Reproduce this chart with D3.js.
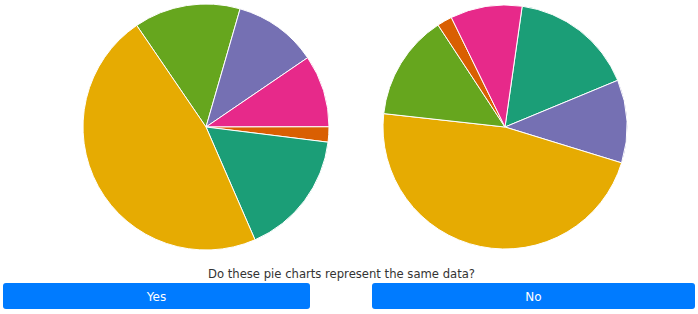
<!DOCTYPE html>
<html>
<head>
<meta charset="utf-8">
<script src="https://cdn.jsdelivr.net/npm/d3@7"></script>
<style>
  body { margin: 0; background: #fff; }
  svg { display: block; }
</style>
</head>
<body>
<svg id="canvas" width="698" height="314"></svg>
<script>
// slice values (same data in both pies, different order)
var categories = ['teal', 'orange', 'purple', 'pink', 'green', 'yellow'];
var values = [16.5, 2, 11, 9.5, 14, 47];
var colors = ['#1b9e77', '#d95f02', '#7570b3', '#e7298a', '#66a61e', '#e6ab02'];

// order of slices in each pie, clockwise from start angle
var leftOrder = ['green', 'purple', 'pink', 'orange', 'teal', 'yellow'];
var rightOrder = ['teal', 'purple', 'yellow', 'green', 'orange', 'pink'];

var question = 'Do these pie charts represent the same data?';
var answers = ['Yes', 'No'];

var svg = d3.select('#canvas');
var color = d3.scaleOrdinal().domain(categories).range(colors);

function drawPie(order, cx, cy, r, startDeg) {
	var rows = order.map(function(c) {
		return { cat: c, value: values[categories.indexOf(c)] };
	});
	var start = startDeg * Math.PI / 180;
	var pie = d3.pie()
		.sort(null)
		.value(function(d) { return d.value; })
		.startAngle(start)
		.endAngle(start + 2 * Math.PI);
	var arc = d3.arc().innerRadius(0).outerRadius(r);

	svg.append('g')
		.attr('transform', 'translate(' + cx + ',' + cy + ')')
		.selectAll('path')
		.data(pie(rows))
		.enter()
		.append('path')
		.attr('d', arc)
		.attr('fill', function(d) { return color(d.data.cat); })
		.attr('stroke', '#fff')
		.attr('stroke-width', 1);
}

drawPie(leftOrder, 206, 127, 123, -34.3);
drawPie(rightOrder, 505, 127, 122, 8.1);

// question
svg.append('text')
	.attr('x', 341.5)
	.attr('y', 278)
	.attr('text-anchor', 'middle')
	.attr('font-family', 'DejaVu Sans, Verdana, sans-serif')
	.attr('font-size', 12)
	.attr('fill', '#333')
	.attr('textLength', 267)
	.attr('lengthAdjust', 'spacingAndGlyphs')
	.text(question);

// buttons
var buttons = [
	{ label: answers[0], x: 3, w: 307 },
	{ label: answers[1], x: 372, w: 323 }
];
var btn = svg.selectAll('g.btn')
	.data(buttons)
	.enter()
	.append('g')
	.attr('class', 'btn');

btn.append('rect')
	.attr('x', function(d) { return d.x; })
	.attr('y', 283)
	.attr('width', function(d) { return d.w; })
	.attr('height', 26)
	.attr('rx', 3)
	.attr('fill', '#007bff');

btn.append('text')
	.attr('x', function(d) { return d.x + d.w / 2; })
	.attr('y', 301)
	.attr('text-anchor', 'middle')
	.attr('font-family', 'DejaVu Sans, Verdana, sans-serif')
	.attr('font-size', 12)
	.attr('fill', '#fff')
	.text(function(d) { return d.label; });
</script>
</body>
</html>
